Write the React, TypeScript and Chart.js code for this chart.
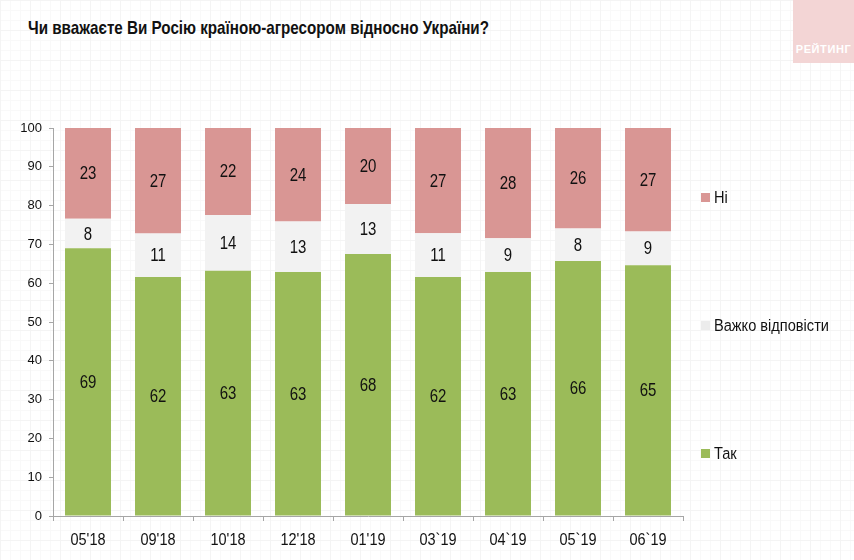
import React, { useEffect, useRef } from "react";
import { Chart, registerables } from "chart.js";

Chart.register(...registerables);

const title = "Чи вважаєте Ви Росію країною-агресором відносно України?";
const categories = ["05'18", "09'18", "10'18", "12'18", "01'19", "03`19", "04`19", "05`19", "06`19"];
const yesValues = [69.0, 61.6, 63.2, 62.9, 67.5, 61.6, 62.9, 65.7, 64.6];
const hardValues = [7.6, 11.2, 14.4, 13.0, 12.9, 11.3, 8.7, 8.4, 8.7];
const noValues = [23.4, 27.2, 22.4, 24.1, 19.6, 27.1, 28.4, 25.9, 26.7];
const seriesNames = ["Так", "Важко відповісти", "Ні"];
const seriesColors = ["#9bbb59", "#f2f2f2", "#d99694"];
const yTicks = [0, 10, 20, 30, 40, 50, 60, 70, 80, 90, 100];

const FONT = "'Liberation Sans', Arial, sans-serif";

function stretchedText(ctx: any, text: string, x: number, y: number, sy: number) {
  ctx.save();
  ctx.translate(x, y);
  ctx.scale(1, sy);
  ctx.fillText(text, 0, 0);
  ctx.restore();
}

const labelPlugin = {
  id: "segLabels",
  afterDatasetsDraw(chart: any) {
    const ctx = chart.ctx;
    ctx.save();
    ctx.font = `15px ${FONT}`;
    ctx.fillStyle = "#111";
    ctx.textAlign = "center";
    ctx.textBaseline = "middle";
    chart.data.datasets.forEach((ds: any, di: number) => {
      const meta = chart.getDatasetMeta(di);
      meta.data.forEach((bar: any, i: number) => {
        const top = Math.max(bar.y, chart.chartArea.top);
        const bottom = bar.base;
        const y = (top + bottom) / 2;
        stretchedText(ctx, String(Math.round(ds.data[i])), bar.x, y + 1, 1.2);
      });
    });
    // x category labels
    const xs = chart.scales.x;
    ctx.font = `14.5px ${FONT}`;
    chart.data.labels.forEach((lab: string, i: number) => {
      const x = xs.getPixelForValue(i);
      stretchedText(ctx, lab, x, xs.top + 24, 1.2);
    });
    ctx.restore();
  },
};

export default function App() {
  const ref = useRef<HTMLCanvasElement | null>(null);
  useEffect(() => {
    if (!ref.current) return;
    const chart = new Chart(ref.current, {
      type: "bar",
      data: {
        labels: categories,
        datasets: [
          { label: seriesNames[0], data: yesValues, backgroundColor: seriesColors[0] },
          { label: seriesNames[1], data: hardValues, backgroundColor: seriesColors[1] },
          { label: seriesNames[2], data: noValues, backgroundColor: seriesColors[2] },
        ],
      },
      options: {
        animation: false,
        responsive: false,
        maintainAspectRatio: false,
        layout: { padding: { left: 0, top: 128, right: 171, bottom: 0 } },
        datasets: { bar: { barPercentage: 1, categoryPercentage: 0.657 } },
        plugins: { legend: { display: false }, tooltip: { enabled: false } },
        scales: {
          x: {
            stacked: true,
            grid: { drawOnChartArea: false, drawTicks: true, tickLength: 5, color: "#a6a6a6", offset: true },
            border: { display: true, color: "#a6a6a6" },
            ticks: { display: false },
            afterFit: (s: any) => { s.height = 44; },
          },
          y: {
            stacked: true,
            min: 0,
            max: 100,
            afterBuildTicks: (s: any) => { s.ticks = yTicks.map((v) => ({ value: v })); },
            grid: { drawOnChartArea: false, drawTicks: true, tickLength: 4, color: "#a6a6a6" },
            border: { display: true, color: "#a6a6a6" },
            ticks: { color: "#111", font: { family: FONT, size: 13 }, padding: 7 },
            afterFit: (s: any) => { s.width = 53; },
          },
        },
      },
      plugins: [labelPlugin],
    });
    return () => chart.destroy();
  }, []);

  const bg =
    "linear-gradient(#f4f4f4 1px, transparent 1px) 0 0 / 30px 30px, " +
    "linear-gradient(90deg, #f4f4f4 1px, transparent 1px) 0 0 / 30px 30px, " +
    "linear-gradient(#f9f9f9 1px, transparent 1px) 0 0 / 10px 10px, " +
    "linear-gradient(90deg, #f9f9f9 1px, transparent 1px) 0 0 / 10px 10px, #ffffff";

  const legendItems = [
    { name: seriesNames[2], color: seriesColors[2], y: 197 },
    { name: seriesNames[1], color: "#ececec", y: 325 },
    { name: seriesNames[0], color: seriesColors[0], y: 453 },
  ];

  return (
    <div style={{ position: "fixed", left: 0, top: 0, width: 854, height: 560, background: bg, overflow: "hidden", fontFamily: FONT }}>
      <div style={{ position: "absolute", left: 28, top: 19, fontSize: 15.2, fontWeight: "bold", color: "#111", whiteSpace: "nowrap", transform: "scaleY(1.15)", transformOrigin: "left center" }}>
        {title}
      </div>
      <div style={{ position: "absolute", left: 793, top: 0, width: 61, height: 63, background: "#f3d5d5" }}>
        <div style={{ position: "absolute", left: 0, right: 0, top: 43, textAlign: "center", color: "#fff", fontWeight: "bold", fontSize: 11, letterSpacing: 0.6 }}>
          РЕЙТИНГ
        </div>
      </div>
      <canvas ref={ref} width={854} height={560} style={{ position: "absolute", left: 0, top: 0 }} />
      {legendItems.map((it) => (
        <div key={it.name} style={{ position: "absolute", left: 701, top: it.y - 9, height: 18, display: "flex", alignItems: "center", whiteSpace: "nowrap" }}>
          <span style={{ display: "inline-block", width: 9, height: 9, background: it.color, marginRight: 4 }} />
          <span style={{ fontSize: 14.6, color: "#111", display: "inline-block", transform: "scaleY(1.12)" }}>{it.name}</span>
        </div>
      ))}
    </div>
  );
}
